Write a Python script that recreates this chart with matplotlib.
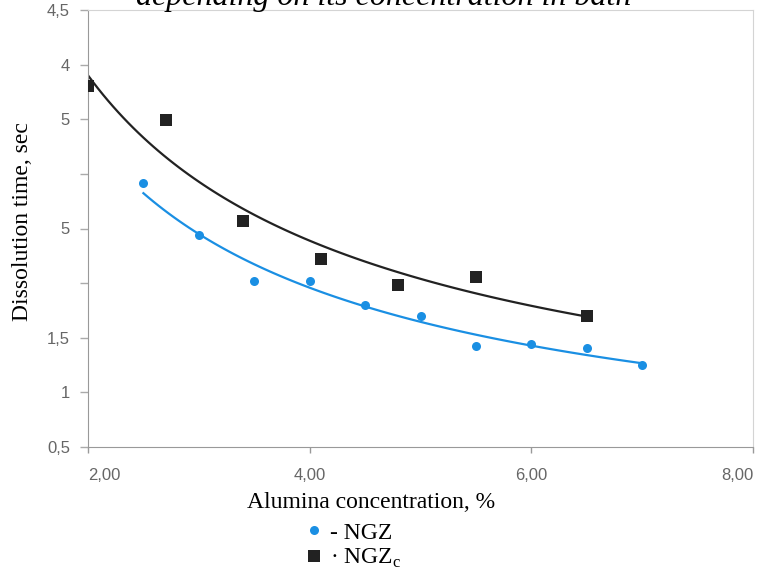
import numpy as np
import matplotlib
matplotlib.use('Agg')
import matplotlib.pyplot as plt

# alumina concentration, % and dissolution time, sec
x_ngz = [2.5, 3.0, 3.5, 4.0, 4.5, 5.0, 5.5, 6.0, 6.5, 7.0]
y_ngz = [2.92, 2.44, 2.02, 2.02, 1.80, 1.70, 1.42, 1.44, 1.41, 1.25]
x_ngzc = [2.0, 2.7, 3.4, 4.1, 4.8, 5.5, 6.5]
y_ngzc = [3.80, 3.49, 2.57, 2.22, 1.98, 2.06, 1.70]

x_ticks = [2, 4, 6, 8]
x_ticklabels = ['2,00', '4,00', '6,00', '8,00']
y_ticks = [0.5, 1, 1.5, 2, 2.5, 3, 3.5, 4, 4.5]
y_ticklabels = ['0,5', '1', '1,5', '', '5', '', '5', '4', '4,5']

blue = '#1a8fe3'
black = '#222222'
serif = 'Liberation Serif'
sans = 'Liberation Sans'


def power_fit(x, y):
    # least squares in log-log space, y = a * x^b
    b, ln_a = np.polyfit(np.log(x), np.log(y), 1)
    xs = np.linspace(min(x), max(x), 100)
    return xs, np.exp(ln_a) * xs ** b


fig = plt.figure(figsize=(7.7, 5.75), dpi=100)
ax = fig.add_axes([88 / 770, 1 - 447 / 575, 665 / 770, 437 / 575])

xs, ys = power_fit(x_ngzc, y_ngzc)
ax.plot(xs, ys, color=black, lw=1.6, zorder=2)
xs, ys = power_fit(x_ngz, y_ngz)
ax.plot(xs, ys, color=blue, lw=1.6, zorder=2)

h_ngz, = ax.plot(x_ngz, y_ngz, 'o', color=blue, markersize=6.5,
                 markeredgewidth=0, zorder=3)
h_ngzc, = ax.plot(x_ngzc, y_ngzc, 's', color=black, markersize=8.6,
                  markeredgewidth=0, zorder=3)

ax.set_xlim(2, 8)
ax.set_ylim(0.5, 4.5)
ax.set_xticks(x_ticks)
ax.set_xticklabels(x_ticklabels, family=sans, fontsize=12, color='#666666')
ax.get_xticklabels()[0].set_horizontalalignment('left')
ax.get_xticklabels()[-1].set_horizontalalignment('right')
ax.set_yticks(y_ticks)
ax.set_yticklabels(y_ticklabels, family=sans, fontsize=12, color='#666666')
ax.tick_params(axis='x', length=4, width=1, color='#999999', pad=11)
ax.tick_params(axis='y', length=6, width=1, color='#aaaaaa', pad=7)

for side in ['left', 'bottom']:
    ax.spines[side].set_color('#999999')
for side in ['top', 'right']:
    ax.spines[side].set_color('#d4d4d4')

ax.set_ylabel('Dissolution time, sec', family=serif, fontsize=17)
ax.yaxis.set_label_coords(-0.083, 0.515)

fig.text(371 / 770, 1 - 508 / 575, 'Alumina concentration, %', family=serif,
         fontsize=17, ha='center', va='baseline')
# title line is cut by the top edge in the original scan
fig.text(0.498, 1 - 5 / 575, 'depending on its concentration in bath',
         family=serif, style='italic', fontsize=23, ha='center', va='baseline')

fig.legend([h_ngz, h_ngzc], ['- NGZ', '· NGZ$_{\\mathregular{c}}$'],
           loc='upper left', bbox_to_anchor=(302 / 770, 1 - 522 / 575),
           prop={'family': serif, 'size': 17}, frameon=False,
           labelspacing=0.15, handletextpad=0.2, handlelength=1.0,
           borderpad=0, borderaxespad=0)

fig.savefig('out.png', dpi=100)
